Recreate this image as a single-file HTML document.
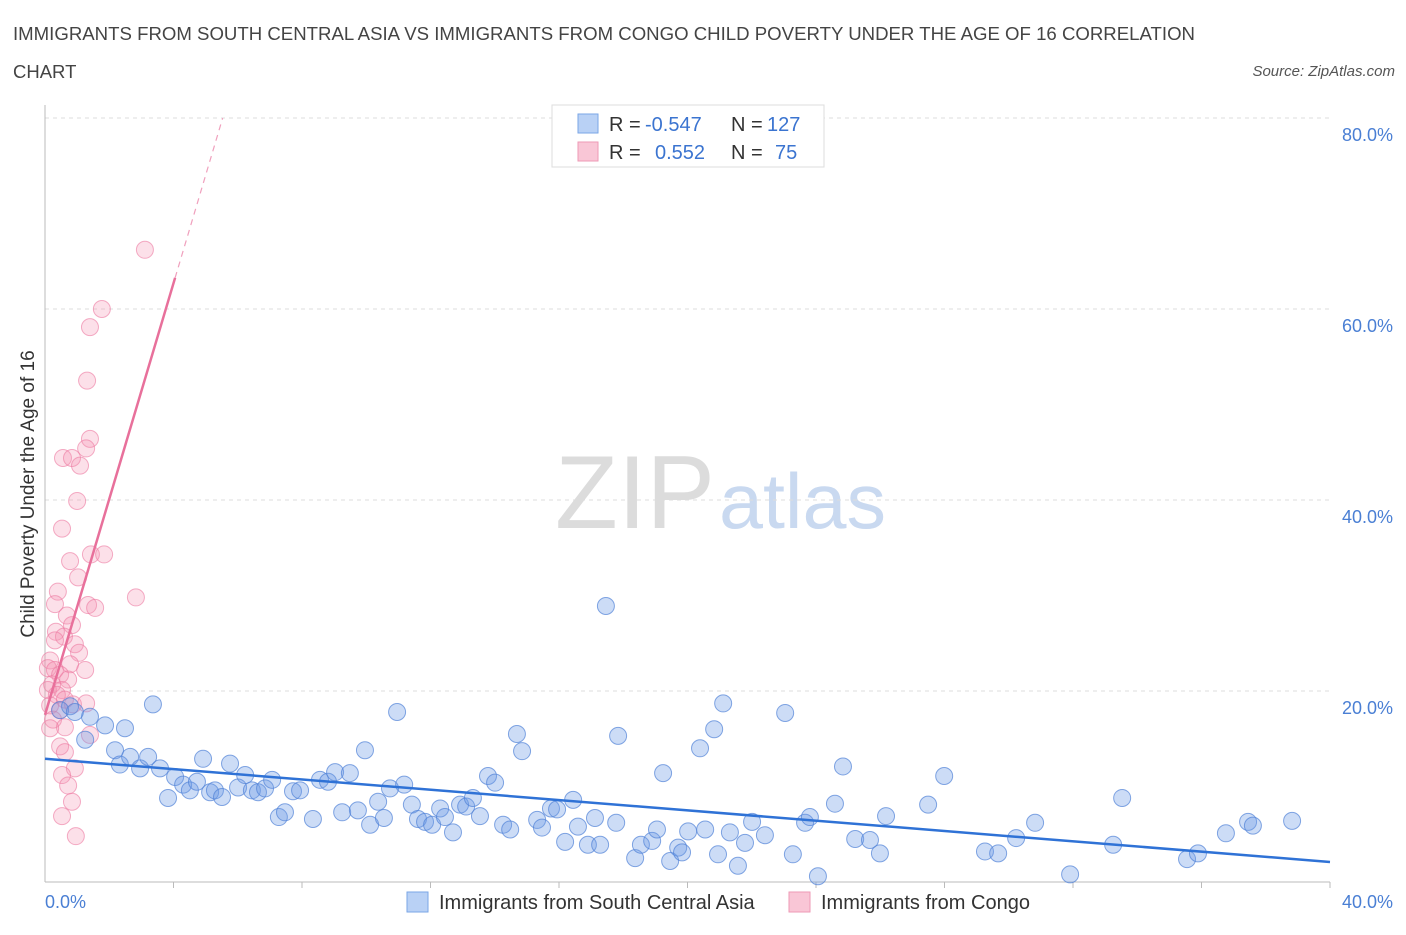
<!DOCTYPE html>
<html><head><meta charset="utf-8"><style>
body{margin:0;background:#fff;font-family:"Liberation Sans",sans-serif;}
svg text{font-family:"Liberation Sans",sans-serif;}
</style></head><body>
<svg id="chart" width="1406" height="930" xmlns="http://www.w3.org/2000/svg">
<text x="13" y="40" font-size="18.5" fill="#444" textLength="1182" lengthAdjust="spacingAndGlyphs">IMMIGRANTS FROM SOUTH CENTRAL ASIA VS IMMIGRANTS FROM CONGO CHILD POVERTY UNDER THE AGE OF 16 CORRELATION</text>
<text x="13" y="78" font-size="18.5" fill="#444">CHART</text>
<text x="1395" y="76" font-size="15" font-style="italic" fill="#555" text-anchor="end">Source: ZipAtlas.com</text>
<g>
<text x="555" y="528" font-family="Liberation Serif,serif" font-size="104" fill="#dcdcdc" textLength="160" lengthAdjust="spacingAndGlyphs">ZIP</text>
<text x="719" y="528" font-size="78" fill="#c9d9f0" textLength="167" lengthAdjust="spacingAndGlyphs">atlas</text>
</g>
<g id="grid"></g>
<g id="axes"></g>
<g id="pinkpts"></g>
<g id="bluepts"></g>
<g id="trends"></g>
<text transform="translate(34,494) rotate(-90)" font-size="19" fill="#333" text-anchor="middle">Child Poverty Under the Age of 16</text>
<text x="45" y="908" font-size="18" fill="#4a7fd4">0.0%</text>
<text x="1393" y="908" font-size="18" fill="#4a7fd4" text-anchor="end">40.0%</text>
<g>
<rect x="552" y="105" width="272" height="62" fill="#fff" stroke="#ddd"/>
<rect x="578" y="114" width="20" height="19" fill="#b9d1f5" stroke="#7aa6e6"/>
<rect x="578" y="142" width="20" height="19" fill="#f9c6d6" stroke="#ee9ab6"/>
<text x="609" y="131" font-size="20" fill="#333">R =</text>
<text x="645" y="131" font-size="20" fill="#3b74d0">-0.547</text>
<text x="731" y="131" font-size="20" fill="#333">N =</text>
<text x="767" y="131" font-size="20" fill="#3b74d0">127</text>
<text x="609" y="159" font-size="20" fill="#333">R =</text>
<text x="655" y="159" font-size="20" fill="#3b74d0">0.552</text>
<text x="731" y="159" font-size="20" fill="#333">N =</text>
<text x="775" y="159" font-size="20" fill="#3b74d0">75</text>
</g>
<g>
<rect x="407" y="892" width="21" height="20" fill="#b9d1f5" stroke="#7aa6e6"/>
<text x="439" y="909" font-size="20" fill="#333">Immigrants from South Central Asia</text>
<rect x="789" y="892" width="21" height="20" fill="#f9c6d6" stroke="#ee9ab6"/>
<text x="821" y="909" font-size="20" fill="#333">Immigrants from Congo</text>
</g>
</svg>
<script>
const yTicks=[20,40,60,80];
const yTickLabels=["20.0%","40.0%","60.0%","80.0%"];
const blueX=[3.36,2.49,1.87,1.40,1.25,0.47,0.78,0.93,2.18,2.33,2.65,2.96,3.21,3.58,3.83,4.05,4.30,4.51,4.73,4.92,5.14,5.29,5.51,5.76,6.01,6.23,6.44,6.63,6.85,7.07,7.28,7.47,7.72,7.94,8.34,8.56,8.81,9.03,9.25,9.49,9.74,9.96,10.12,10.37,10.55,10.74,10.96,11.18,11.42,11.61,11.83,12.05,12.30,12.45,12.70,12.92,13.11,13.32,13.54,13.79,14.01,14.26,14.48,14.69,14.85,15.32,15.47,15.75,15.94,16.19,16.44,16.59,16.90,17.12,17.28,17.46,17.78,17.84,18.37,18.55,18.90,19.05,19.24,19.46,19.71,19.83,20.02,20.39,20.55,20.83,20.95,21.11,21.32,21.57,21.79,22.01,22.41,23.04,23.28,23.66,23.81,24.06,24.59,24.84,25.22,25.68,25.99,26.18,27.49,27.99,29.26,29.67,30.23,30.82,31.91,33.25,33.53,35.55,35.89,36.76,37.45,37.60,38.82];
const blueY=[18.6,16.1,16.4,17.3,14.9,18.0,18.4,17.8,13.8,12.3,13.1,11.9,13.1,11.9,8.8,11.0,10.2,9.6,10.5,12.9,9.4,9.6,8.9,12.4,9.9,11.2,9.6,9.4,9.8,10.7,6.8,7.3,9.5,9.6,6.6,10.7,10.5,11.5,7.3,11.4,7.5,13.8,6.0,8.4,6.7,9.8,17.8,10.2,8.1,6.6,6.3,6.0,7.7,6.8,5.2,8.1,7.9,8.8,6.9,11.1,10.4,6.0,5.5,15.5,13.7,6.5,5.7,7.7,7.6,4.2,8.6,5.8,3.9,6.7,3.9,28.9,6.2,15.3,2.5,3.9,4.3,5.5,11.4,2.2,3.6,3.1,5.3,14.0,5.5,16.0,2.9,18.7,5.2,1.7,4.1,6.3,4.9,17.7,2.9,6.2,6.8,0.6,8.2,12.1,4.5,4.4,3.0,6.9,8.1,11.1,3.2,3.0,4.6,6.2,0.8,3.9,8.8,2.4,3.0,5.1,6.3,5.9,6.4];
const pinkX=[3.11,1.77,1.40,1.31,1.40,1.28,0.56,0.84,1.09,1.00,0.53,0.78,1.43,1.84,1.03,2.83,0.40,0.31,1.34,1.56,0.68,0.84,0.34,0.59,0.31,0.93,1.06,0.16,0.09,0.31,0.78,1.25,0.47,0.72,0.22,0.09,0.53,0.37,0.62,0.16,0.87,1.28,0.47,0.25,0.62,0.16,1.40,0.47,0.62,0.93,0.53,0.72,0.84,0.53,0.96];
const pinkY=[66.2,60.0,58.1,52.5,46.4,45.4,44.4,44.4,43.6,39.9,37.0,33.6,34.3,34.3,31.9,29.8,30.4,29.1,29.0,28.7,27.9,26.9,26.2,25.7,25.3,24.9,24.0,23.2,22.4,22.2,22.8,22.2,21.7,21.2,20.7,20.1,20.1,19.6,19.1,18.5,18.6,18.7,18.0,17.0,16.2,16.1,15.4,14.2,13.6,11.9,11.2,10.1,8.4,6.9,4.8];
const blueTrend=[12.9,2.1];      // y at x=0 and x=40
const pinkTrend=[17.5,11.3];     // intercept, slope
const NS="http://www.w3.org/2000/svg";
const sx=v=>45+v*1285/40;
const sy=v=>882-v*9.55;
function mk(tag,attrs,parent){const e=document.createElementNS(NS,tag);for(const k in attrs)e.setAttribute(k,attrs[k]);document.getElementById(parent).appendChild(e);return e;}
yTicks.forEach((t,i)=>{
  const l=mk('line',{x1:45,x2:1330,y1:sy(t),y2:sy(t),stroke:'#ddd','stroke-dasharray':'4,4'},'grid');
  
  
  const tx=mk('text',{x:1393,y:sy(t)+23,'font-size':18,fill:'#4a7fd4','text-anchor':'end'},'grid');
  tx.textContent=yTickLabels[i];
  
  
});
const ax=mk('line',{x1:45,x2:1330,y1:882,y2:882,stroke:'#bbb'},'axes');


const ay=mk('line',{x1:45,x2:45,y1:105,y2:882,stroke:'#bbb'},'axes');


for(let i=1;i<=10;i++){const t=mk('line',{x1:sx(i*4),x2:sx(i*4),y1:882,y2:888,stroke:'#bbb'},'axes');

}
pinkX.forEach((x,i)=>{const c=mk('circle',{cx:sx(x),cy:sy(pinkY[i]),r:8.5,fill:'rgba(244,143,177,0.28)',stroke:'rgba(236,120,160,0.6)','stroke-width':1},'pinkpts');

});
blueX.forEach((x,i)=>{const c=mk('circle',{cx:sx(x),cy:sy(blueY[i]),r:8.5,fill:'rgba(110,156,230,0.35)',stroke:'rgba(80,130,215,0.7)','stroke-width':1},'bluepts');

});
const bt=mk('line',{x1:sx(0),y1:sy(blueTrend[0]),x2:sx(40),y2:sy(blueTrend[1]),stroke:'#2f72d6','stroke-width':2.5},'trends');


const pf=x=>pinkTrend[0]+pinkTrend[1]*x;
const xEnd=(80-pinkTrend[0])/pinkTrend[1];
const ps=mk('line',{x1:sx(0),y1:sy(pf(0)),x2:sx(4.05),y2:sy(pf(4.05)),stroke:'#e8709b','stroke-width':2.5},'trends');


const pd=mk('line',{x1:sx(4.05),y1:sy(pf(4.05)),x2:sx(xEnd),y2:sy(80),stroke:'#f0a0bd','stroke-width':1.2,'stroke-dasharray':'6,5'},'trends');


</script>
</body></html>
